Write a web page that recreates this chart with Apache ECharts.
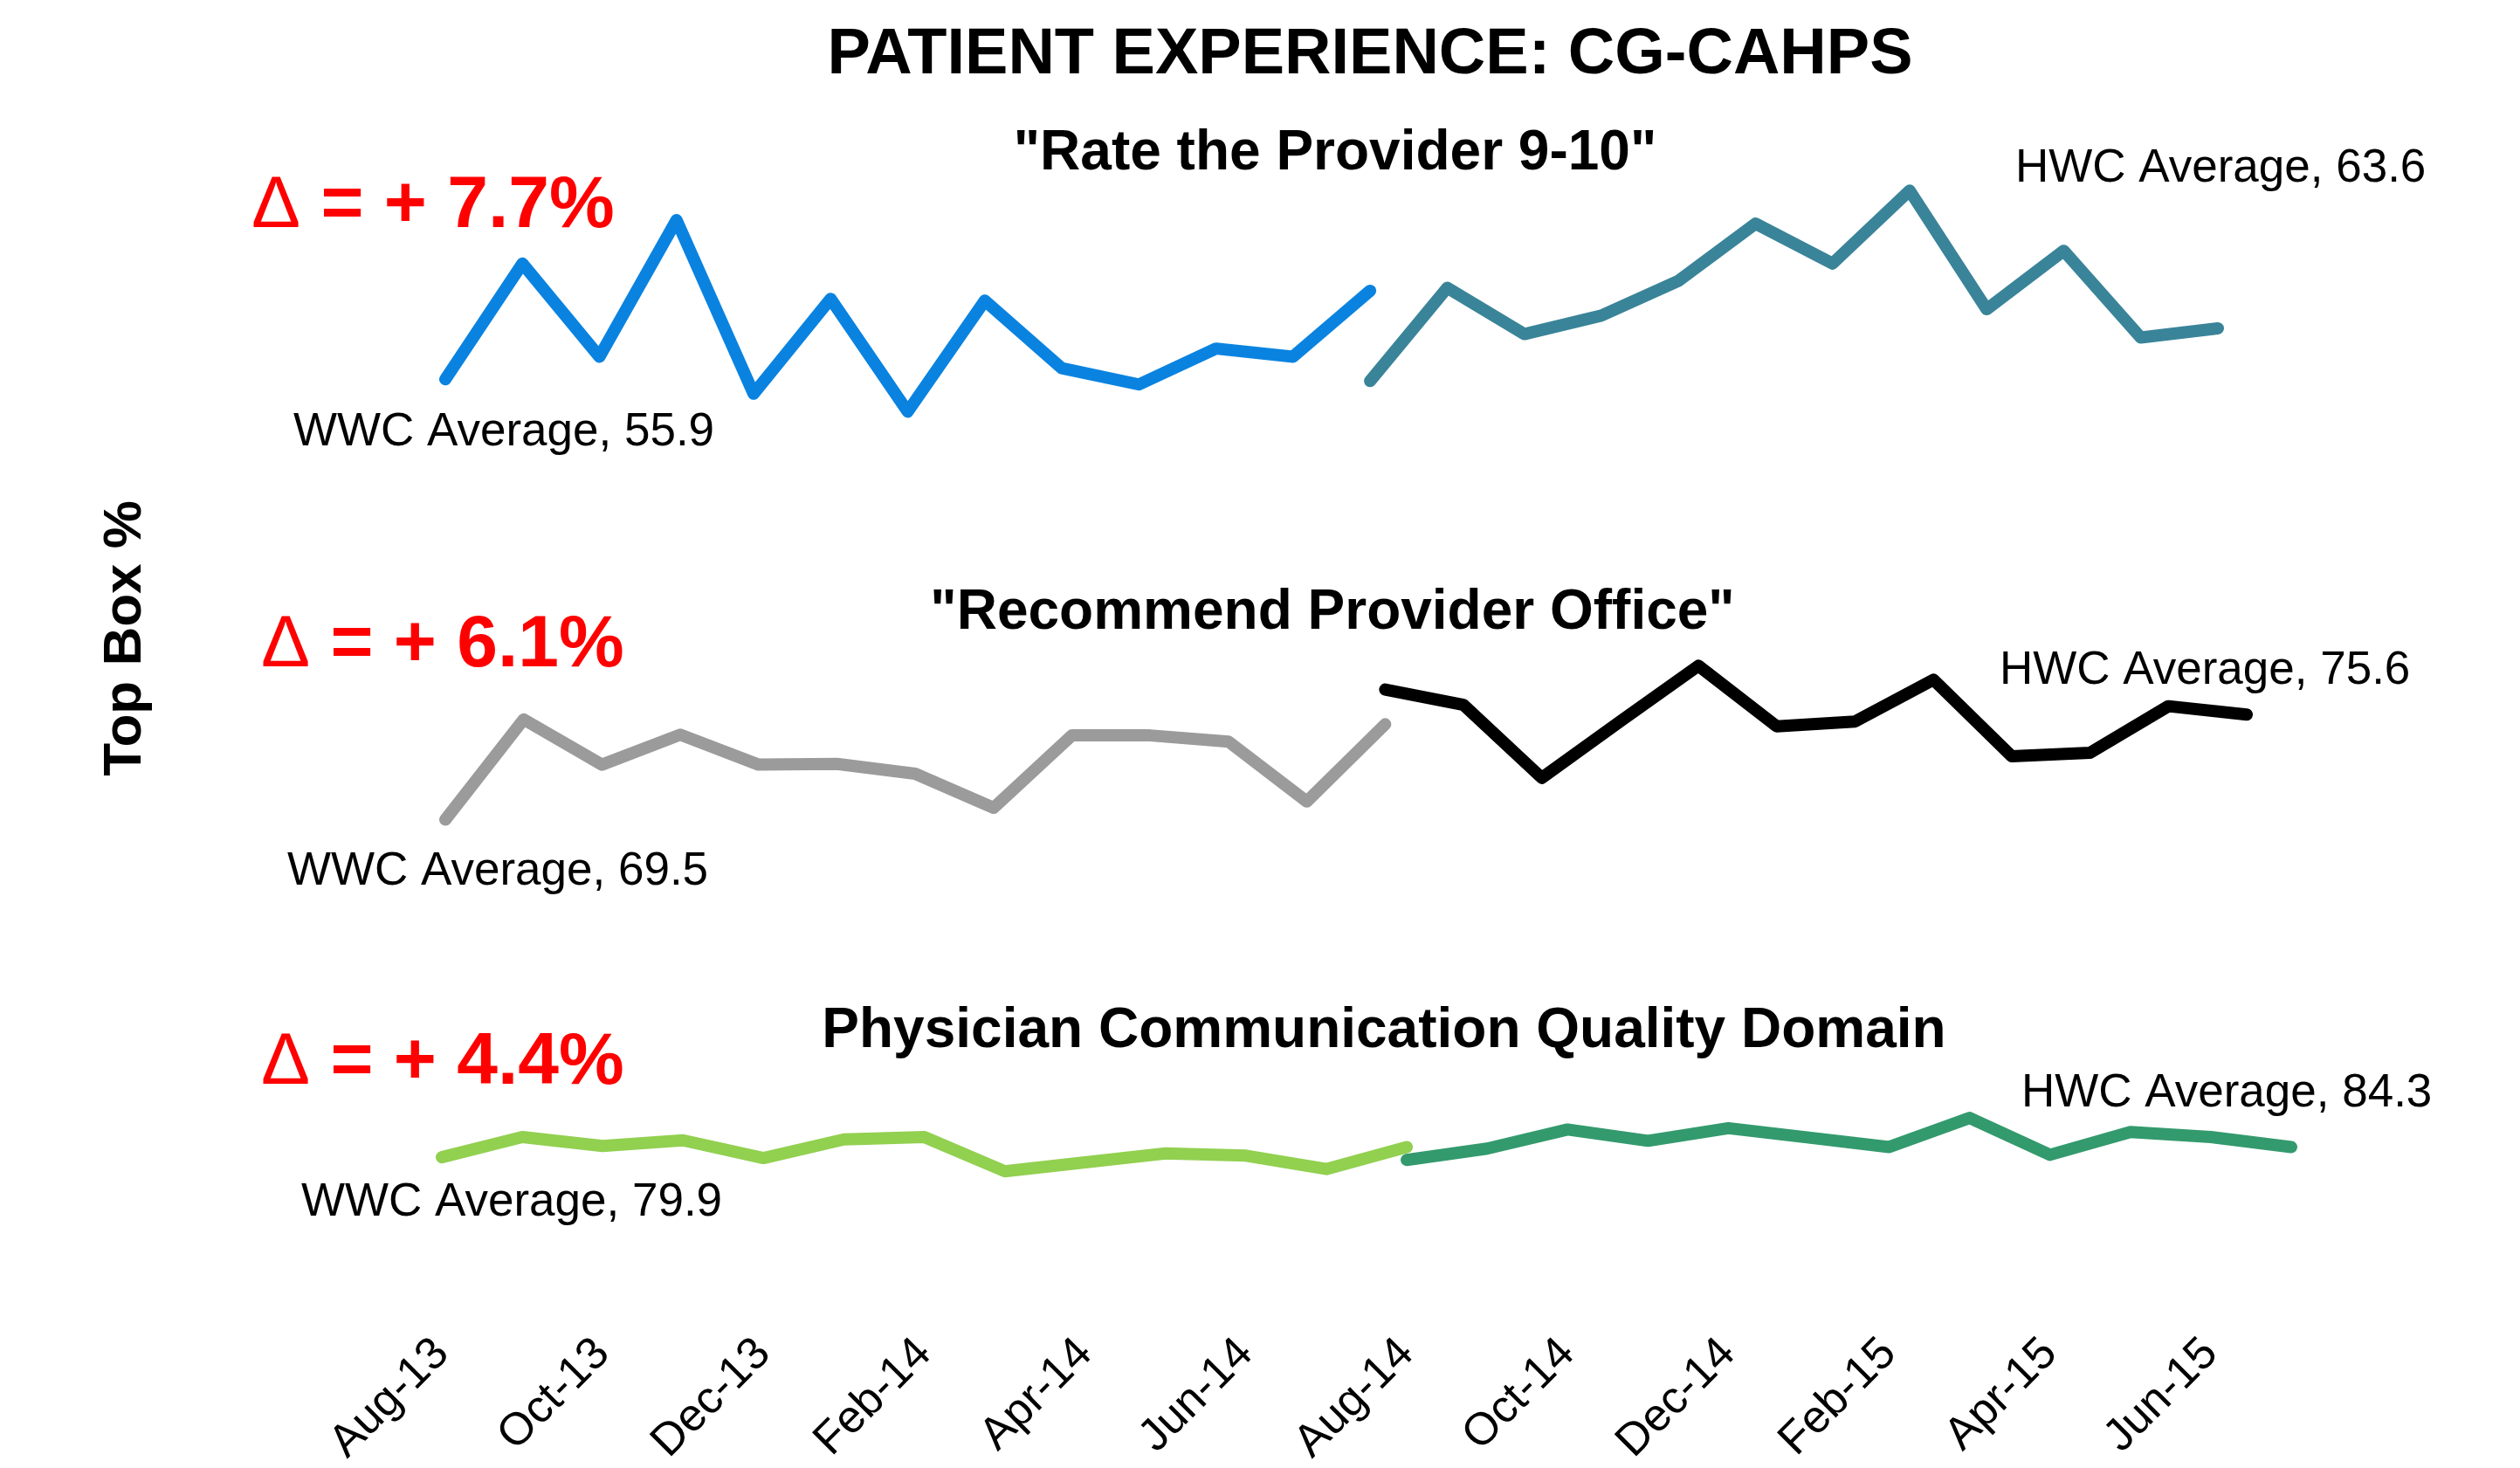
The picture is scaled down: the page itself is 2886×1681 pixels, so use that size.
<!DOCTYPE html>
<html>
<head>
<meta charset="utf-8">
<title>Patient Experience: CG-CAHPS</title>
<script src="https://cdn.jsdelivr.net/npm/echarts/dist/echarts.min.js"></script>
<style>
  html, body { margin: 0; padding: 0; background: #ffffff; }
  #chart { width: 2886px; height: 1681px; }
</style>
</head>
<body>
<div id="chart"></div>
<script>
// months on the shared x axis, only every 2nd one gets a label
const months = ['Aug-13', 'Sep-13', 'Oct-13', 'Nov-13', 'Dec-13', 'Jan-14', 'Feb-14', 'Mar-14',
  'Apr-14', 'May-14', 'Jun-14', 'Jul-14', 'Aug-14', 'Sep-14', 'Oct-14', 'Nov-14', 'Dec-14',
  'Jan-15', 'Feb-15', 'Mar-15', 'Apr-15', 'May-15', 'Jun-15', 'Jul-15'];

// "Rate the Provider 9-10"  (WWC Aug-13..Aug-14, HWC Aug-14..Jul-15)
const rateWWC = [48.5, 68.5, 52.4, 76.0, 46.0, 62.4, 42.9, 62.1, 50.4, 47.6, 53.8, 52.4, 63.8];
const rateHWC = [48.2, 64.3, 56.3, 59.5, 65.5, 75.4, 68.5, 81.1, 60.6, 70.7, 55.7, 57.3];

// "Recommend Provider Office"
const recWWC = [61.0, 75.4, 68.9, 73.2, 68.9, 69.0, 67.6, 62.7, 73.1, 73.1, 72.2, 63.6, 74.7];
const recHWC = [79.7, 77.5, 67.0, 75.1, 83.1, 74.4, 75.1, 81.1, 70.1, 70.6, 77.3, 76.1];

// Physician Communication Quality Domain
const commWWC = [77.9, 85.4, 82.1, 84.2, 77.6, 84.5, 85.4, 72.7, 76.0, 79.3, 78.5, 73.5, 81.7];
const commHWC = [76.9, 81.1, 88.2, 84.0, 88.7, 85.2, 81.7, 92.5, 78.8, 87.3, 85.4, 81.7];

const panelTitles = ['"Rate the Provider 9-10"', '"Recommend Provider Office"', 'Physician Communication Quality Domain'];
const deltaValues = ['7.7%', '6.1%', '4.4%'];
const wwcLabels = ['WWC Average, 55.9', 'WWC Average, 69.5', 'WWC Average, 79.9'];
const hwcLabels = ['HWC Average, 63.6', 'HWC Average, 75.6', 'HWC Average, 84.3'];

const FONT = '"Liberation Sans", Arial, sans-serif';

// WWC runs up to Aug-14, HWC starts at Aug-14
function padWWC(arr) {
  return arr.concat(new Array(months.length - arr.length).fill(null));
}
function padHWC(arr) {
  return new Array(months.length - arr.length).fill(null).concat(arr);
}

function lineSeries(idx, data, color) {
  return {
    type: 'line',
    xAxisIndex: idx,
    yAxisIndex: idx,
    data: data,
    symbol: 'none',
    smooth: false,
    connectNulls: false,
    lineStyle: { color: color, width: 14, cap: 'round', join: 'round' },
    silent: true
  };
}

function text(x, y, str, size, weight, color, align, rotation) {
  return {
    type: 'text',
    x: x,
    y: y,
    rotation: rotation || 0,
    style: {
      text: str,
      font: weight + ' ' + size + 'px ' + FONT,
      fill: color,
      align: align,
      verticalAlign: 'middle'
    }
  };
}

// red delta text, the triangle is a thin (regular weight) glyph in the original
function deltaText(x, y, value) {
  return {
    type: 'text',
    x: x,
    y: y,
    style: {
      text: '{d|\u0394}{v| = + ' + value + '}',
      align: 'left',
      verticalAlign: 'middle',
      rich: {
        d: { fontFamily: FONT, fontWeight: 'normal', fontSize: 84, fill: '#FF0000', color: '#FF0000' },
        v: { fontFamily: FONT, fontWeight: 'bold', fontSize: 84, fill: '#FF0000', color: '#FF0000' }
      }
    }
  };
}

const chart = echarts.init(document.getElementById('chart'));

let option = {
  animation: false,
  backgroundColor: '#ffffff',
  grid: [
    { left: 510, top: 159.3, width: 2030, height: 331.3 },
    { left: 510, top: 707.4, width: 2063, height: 279.0 },
    { left: 506, top: 1257, width: 2118, height: 123.7 }
  ],
  xAxis: [
    { gridIndex: 0, type: 'category', data: months, boundaryGap: false, show: false },
    { gridIndex: 1, type: 'category', data: months, boundaryGap: false, show: false },
    {
      gridIndex: 2,
      type: 'category',
      data: months,
      boundaryGap: false,
      offset: 169,
      axisLine: { show: false },
      axisTick: { show: false },
      splitLine: { show: false },
      axisLabel: {
        interval: 1,
        rotate: 45,
        margin: 8,
        fontSize: 52,
        fontFamily: FONT,
        color: '#000000'
      }
    }
  ],
  yAxis: [
    { gridIndex: 0, type: 'value', min: 40, max: 90, show: false },
    { gridIndex: 1, type: 'value', min: 55, max: 90, show: false },
    { gridIndex: 2, type: 'value', min: 65, max: 100, show: false }
  ],
  series: [
    lineSeries(0, padWWC(rateWWC), '#0A83E0'),
    lineSeries(0, padHWC(rateHWC), '#3A8499'),
    lineSeries(1, padWWC(recWWC), '#9B9B9B'),
    lineSeries(1, padHWC(recHWC), '#000000'),
    lineSeries(2, padWWC(commWWC), '#92D050'),
    lineSeries(2, padHWC(commHWC), '#339A6D')
  ],
  graphic: [
    text(1569, 64, 'PATIENT EXPERIENCE: CG-CAHPS', 74, 'bold', '#000000', 'center'),
    text(144, 731, 'Top Box %', 62, 'bold', '#000000', 'center', Math.PI / 2),

    text(1529, 176, panelTitles[0], 64, 'bold', '#000000', 'center'),
    text(1526, 702, panelTitles[1], 64, 'bold', '#000000', 'center'),
    text(1585, 1181, panelTitles[2], 64, 'bold', '#000000', 'center'),

    deltaText(288, 237, deltaValues[0]),
    deltaText(299, 740, deltaValues[1]),
    deltaText(299, 1218, deltaValues[2]),

    text(336, 495, wwcLabels[0], 53, 'normal', '#000000', 'left'),
    text(329, 998, wwcLabels[1], 53, 'normal', '#000000', 'left'),
    text(345, 1377, wwcLabels[2], 53, 'normal', '#000000', 'left'),
    text(2308, 193, hwcLabels[0], 53, 'normal', '#000000', 'left'),
    text(2290, 768, hwcLabels[1], 53, 'normal', '#000000', 'left'),
    text(2315, 1252, hwcLabels[2], 53, 'normal', '#000000', 'left')
  ]
};

chart.setOption(option);
</script>
</body>
</html>
